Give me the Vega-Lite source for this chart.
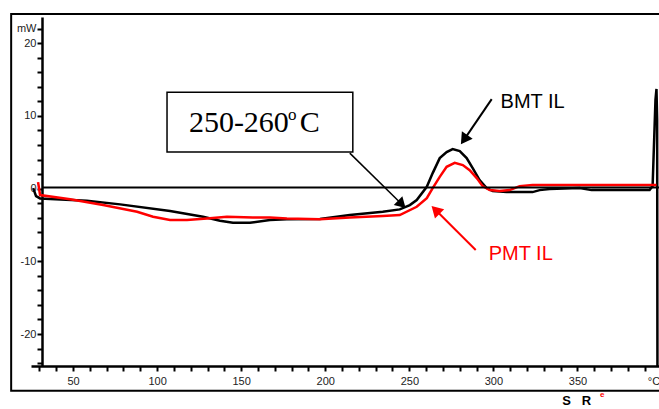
{
  "$schema": "https://vega.github.io/schema/vega-lite/v6.json",
  "width": 628,
  "height": 349,
  "padding": {"left": 31, "top": 17, "right": 0, "bottom": 43},
  "autosize": {"type": "none"},
  "background": "white",
  "config": {"view": {"stroke": null}, "font": "Liberation Sans"},
  "datasets": {
    "curves": [
      {"s": "BMT IL", "t": 26.3, "mW": 0.07},
      {"s": "BMT IL", "t": 28.0, "mW": -1.03},
      {"s": "BMT IL", "t": 30.4, "mW": -1.35},
      {"s": "BMT IL", "t": 58.2, "mW": -1.68},
      {"s": "BMT IL", "t": 78.0, "mW": -2.17},
      {"s": "BMT IL", "t": 107.7, "mW": -3.09},
      {"s": "BMT IL", "t": 127.3, "mW": -3.88},
      {"s": "BMT IL", "t": 137.4, "mW": -4.43},
      {"s": "BMT IL", "t": 145.1, "mW": -4.7},
      {"s": "BMT IL", "t": 155.2, "mW": -4.7},
      {"s": "BMT IL", "t": 167.1, "mW": -4.33},
      {"s": "BMT IL", "t": 177.2, "mW": -4.23},
      {"s": "BMT IL", "t": 196.8, "mW": -4.19},
      {"s": "BMT IL", "t": 214.6, "mW": -3.64},
      {"s": "BMT IL", "t": 234.2, "mW": -3.19},
      {"s": "BMT IL", "t": 244.3, "mW": -2.86},
      {"s": "BMT IL", "t": 250.3, "mW": -2.27},
      {"s": "BMT IL", "t": 254.4, "mW": -1.58},
      {"s": "BMT IL", "t": 260.4, "mW": 0.25},
      {"s": "BMT IL", "t": 263.9, "mW": 2.13},
      {"s": "BMT IL", "t": 268.1, "mW": 4.19},
      {"s": "BMT IL", "t": 272.2, "mW": 5.02},
      {"s": "BMT IL", "t": 275.8, "mW": 5.43},
      {"s": "BMT IL", "t": 280.0, "mW": 5.15},
      {"s": "BMT IL", "t": 284.1, "mW": 4.19},
      {"s": "BMT IL", "t": 287.7, "mW": 2.82},
      {"s": "BMT IL", "t": 291.8, "mW": 1.17},
      {"s": "BMT IL", "t": 296.0, "mW": 0.07},
      {"s": "BMT IL", "t": 299.6, "mW": -0.34},
      {"s": "BMT IL", "t": 307.9, "mW": -0.48},
      {"s": "BMT IL", "t": 323.3, "mW": -0.48},
      {"s": "BMT IL", "t": 327.5, "mW": -0.21},
      {"s": "BMT IL", "t": 333.4, "mW": -0.07},
      {"s": "BMT IL", "t": 351.3, "mW": 0.07},
      {"s": "BMT IL", "t": 358.4, "mW": -0.21},
      {"s": "BMT IL", "t": 392.9, "mW": -0.21},
      {"s": "BMT IL", "t": 394.7, "mW": 0.34},
      {"s": "BMT IL", "t": 396.4, "mW": 12.2},
      {"s": "BMT IL", "t": 397.0, "mW": 13.7},
      {"s": "BMT IL", "t": 397.4, "mW": 9.4},
      {"s": "BMT IL", "t": 397.6, "mW": -29},
      {"s": "PMT IL", "t": 29.2, "mW": 0.89},
      {"s": "PMT IL", "t": 30.4, "mW": -0.89},
      {"s": "PMT IL", "t": 48.3, "mW": -1.48},
      {"s": "PMT IL", "t": 67.9, "mW": -2.27},
      {"s": "PMT IL", "t": 88.1, "mW": -3.19},
      {"s": "PMT IL", "t": 97.6, "mW": -3.88},
      {"s": "PMT IL", "t": 107.7, "mW": -4.33},
      {"s": "PMT IL", "t": 117.8, "mW": -4.33},
      {"s": "PMT IL", "t": 129.7, "mW": -4.1},
      {"s": "PMT IL", "t": 141.5, "mW": -3.88},
      {"s": "PMT IL", "t": 157.0, "mW": -3.96},
      {"s": "PMT IL", "t": 167.1, "mW": -3.96},
      {"s": "PMT IL", "t": 177.2, "mW": -4.1},
      {"s": "PMT IL", "t": 196.8, "mW": -4.23},
      {"s": "PMT IL", "t": 214.6, "mW": -3.96},
      {"s": "PMT IL", "t": 234.2, "mW": -3.78},
      {"s": "PMT IL", "t": 244.3, "mW": -3.64},
      {"s": "PMT IL", "t": 254.4, "mW": -2.5},
      {"s": "PMT IL", "t": 260.4, "mW": -1.31},
      {"s": "PMT IL", "t": 263.9, "mW": 0.07},
      {"s": "PMT IL", "t": 268.1, "mW": 1.62},
      {"s": "PMT IL", "t": 272.2, "mW": 3.0},
      {"s": "PMT IL", "t": 277.0, "mW": 3.55},
      {"s": "PMT IL", "t": 281.8, "mW": 3.23},
      {"s": "PMT IL", "t": 285.9, "mW": 2.54},
      {"s": "PMT IL", "t": 290.1, "mW": 1.44},
      {"s": "PMT IL", "t": 293.6, "mW": 0.34},
      {"s": "PMT IL", "t": 297.8, "mW": -0.21},
      {"s": "PMT IL", "t": 303.7, "mW": -0.34},
      {"s": "PMT IL", "t": 309.7, "mW": -0.21},
      {"s": "PMT IL", "t": 315.6, "mW": 0.34},
      {"s": "PMT IL", "t": 323.3, "mW": 0.48},
      {"s": "PMT IL", "t": 351.3, "mW": 0.48},
      {"s": "PMT IL", "t": 397.0, "mW": 0.48}
    ],
    "one": [{}]
  },
  "layer": [
    {
      "data": {"name": "curves"},
      "transform": [{"filter": "datum.s == 'BMT IL'"}],
      "mark": {"type": "line", "color": "black", "strokeWidth": 2.5, "clip": true},
      "encoding": {
        "x": {"field": "t", "type": "quantitative", "scale": {"domain": [25, 398.5], "nice": false, "zero": false},
          "axis": {"values": [30,40,50,60,70,80,90,100,110,120,130,140,150,160,170,180,190,200,210,220,230,240,250,260,270,280,290,300,310,320,330,340,350,360,370,380,390],
            "tickCount": 200,
            "labelExpr": "datum.value % 50 == 0 ? '' + datum.value : ''",
            "title": null, "grid": false, "domainColor": "#000", "domainWidth": 2.5, "tickColor": "#000", "tickWidth": 2, "tickSize": 5,
            "labelFont": "Liberation Sans", "labelFontSize": 11, "labelColor": "#222222", "labelPadding": 4, "labelOverlap": false, "labelFlush": false}},
        "y": {"field": "mW", "type": "quantitative", "scale": {"domain": [-24.4, 23.6], "nice": false, "zero": false},
          "axis": {"values": [-24,-22,-20,-18,-16,-14,-12,-10,-8,-6,-4,-2,0,2,4,6,8,10,12,14,16,18,20,22],
            "tickCount": 200,
            "labelExpr": "datum.value == 22 ? 'mW' : (datum.value % 10 == 0 ? '' + datum.value : '')",
            "title": null, "grid": false, "offset": -11, "domainColor": "#000", "domainWidth": 2.5, "tickColor": "#000", "tickWidth": 2, "tickSize": 5,
            "labelFont": "Liberation Sans", "labelFontSize": 11, "labelColor": "#222222", "labelPadding": 1, "labelOverlap": false, "labelFlush": false}}
      }
    },
    {
      "data": {"name": "curves"},
      "transform": [{"filter": "datum.s == 'PMT IL'"}],
      "mark": {"type": "line", "color": "#ff0000", "strokeWidth": 2.5, "clip": true},
      "encoding": {"x": {"field": "t", "type": "quantitative"}, "y": {"field": "mW", "type": "quantitative"}}
    },
    {
      "data": {"name": "one"},
      "mark": {"type": "rule", "color": "black", "strokeWidth": 1.8},
      "encoding": {"x": {"datum": 31.6}, "x2": {"datum": 398.5}, "y": {"datum": 0.15}}
    },
    {
      "data": {"name": "one"},
      "mark": {"type": "rect", "filled": false, "stroke": "black", "strokeWidth": 2, "clip": false},
      "encoding": {"x": {"datum": 13.2}, "x2": {"datum": 403}, "y": {"datum": 24.0}, "y2": {"datum": -27.8}}
    },
    {
      "data": {"name": "one"},
      "mark": {"type": "text", "text": "°C", "font": "Liberation Sans", "fontSize": 11, "align": "right", "baseline": "middle", "color": "#222222", "clip": false},
      "encoding": {"x": {"datum": 399.2}, "y": {"datum": -26.56}}
    },
    {
      "data": {"name": "one"},
      "mark": {"type": "rect", "fill": "white", "stroke": "black", "strokeWidth": 1.5},
      "encoding": {"x": {"datum": 105.9}, "x2": {"datum": 216.4}, "y": {"datum": 13.26}, "y2": {"datum": 5.02}}
    },
    {
      "data": {"name": "one"},
      "mark": {"type": "text", "text": "250-260", "font": "Liberation Serif", "fontSize": 30, "align": "left", "baseline": "alphabetic", "color": "black"},
      "encoding": {"x": {"datum": 118.9}, "y": {"datum": 7.81}}
    },
    {
      "data": {"name": "one"},
      "mark": {"type": "text", "text": "o", "font": "Liberation Serif", "fontSize": 17, "align": "left", "baseline": "alphabetic", "color": "black"},
      "encoding": {"x": {"datum": 177.8}, "y": {"datum": 9.4}}
    },
    {
      "data": {"name": "one"},
      "mark": {"type": "text", "text": "C", "font": "Liberation Serif", "fontSize": 30, "align": "left", "baseline": "alphabetic", "color": "black"},
      "encoding": {"x": {"datum": 184.9}, "y": {"datum": 7.81}}
    },
    {
      "data": {"name": "one"},
      "mark": {"type": "text", "text": "BMT IL", "font": "Liberation Sans", "fontSize": 20, "align": "left", "baseline": "alphabetic", "color": "black"},
      "encoding": {"x": {"datum": 304.3}, "y": {"datum": 11.07}}
    },
    {
      "data": {"name": "one"},
      "mark": {"type": "text", "text": "PMT IL", "font": "Liberation Sans", "fontSize": 20, "align": "left", "baseline": "alphabetic", "color": "#ff0000"},
      "encoding": {"x": {"datum": 297.2}, "y": {"datum": -9.83}}
    },
    {
      "data": {"name": "one"},
      "mark": {"type": "rule", "color": "black", "strokeWidth": 1.5},
      "encoding": {"x": {"datum": 214.6}, "y": {"datum": 4.88}, "x2": {"datum": 244.8}, "y2": {"datum": -1.98}}
    },
    {
      "data": {"name": "one"},
      "mark": {"type": "point", "shape": "triangle", "filled": true, "color": "black", "opacity": 1, "size": 150, "angle": 134.5},
      "encoding": {"x": {"datum": 244.8}, "y": {"datum": -1.98}}
    },
    {
      "data": {"name": "one"},
      "mark": {"type": "rule", "color": "black", "strokeWidth": 2},
      "encoding": {"x": {"datum": 299.0}, "y": {"datum": 12.3}, "x2": {"datum": 283.2}, "y2": {"datum": 6.94}}
    },
    {
      "data": {"name": "one"},
      "mark": {"type": "point", "shape": "triangle", "filled": true, "color": "black", "opacity": 1, "size": 170, "angle": 214.3},
      "encoding": {"x": {"datum": 283.2}, "y": {"datum": 6.94}}
    },
    {
      "data": {"name": "one"},
      "mark": {"type": "rule", "color": "#ff0000", "strokeWidth": 2},
      "encoding": {"x": {"datum": 289.5}, "y": {"datum": -8.45}, "x2": {"datum": 266.4}, "y2": {"datum": -3.12}}
    },
    {
      "data": {"name": "one"},
      "mark": {"type": "point", "shape": "triangle", "filled": true, "color": "#ff0000", "opacity": 1, "size": 170, "angle": 315},
      "encoding": {"x": {"datum": 266.4}, "y": {"datum": -3.12}}
    },
    {
      "data": {"name": "one"},
      "mark": {"type": "text", "text": "S", "font": "Liberation Sans", "fontWeight": "bold", "fontSize": 13, "align": "center", "baseline": "alphabetic", "color": "black"},
      "encoding": {"x": {"datum": 343.6}, "y": {"datum": -29.8}}
    },
    {
      "data": {"name": "one"},
      "mark": {"type": "text", "text": "R", "font": "Liberation Sans", "fontWeight": "bold", "fontSize": 13, "align": "center", "baseline": "alphabetic", "color": "black"},
      "encoding": {"x": {"datum": 355.4}, "y": {"datum": -29.8}}
    },
    {
      "data": {"name": "one"},
      "mark": {"type": "text", "text": "e", "font": "Liberation Sans", "fontWeight": "bold", "fontSize": 8, "align": "center", "baseline": "alphabetic", "color": "#ff0000"},
      "encoding": {"x": {"datum": 364.8}, "y": {"datum": -28.6}}
    }
  ]
}
